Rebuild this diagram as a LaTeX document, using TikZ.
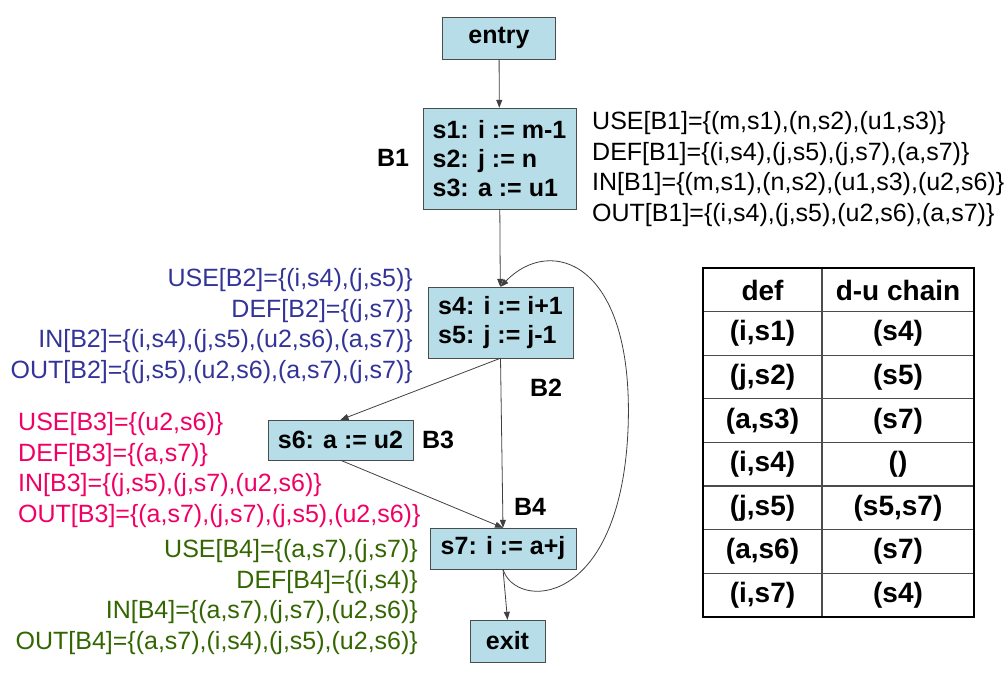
\documentclass[tikz,border=0pt]{standalone}
\usepackage{fontspec}
\setmainfont{Liberation Sans}
\usetikzlibrary{arrows.meta}

\definecolor{boxfill}{RGB}{183,222,232}
\definecolor{bluetext}{RGB}{51,51,153}
\definecolor{redtext}{RGB}{240,0,100}
\definecolor{greentext}{RGB}{51,102,0}

\begin{document}
\begin{tikzpicture}[x=1pt, y=-1pt,
    block/.style={draw=black!70, fill=boxfill, inner sep=0pt, align=left,
      font=\fontsize{25}{29}\selectfont\bfseries},
    lbl/.style={inner sep=0pt, font=\fontsize{25}{30}\selectfont\bfseries},
    info/.style={inner sep=0pt, font=\fontsize{25}{30.5}\selectfont},
    cell/.style={inner sep=0pt, font=\fontsize{28}{30}\selectfont\bfseries},
    flow/.style={draw=black!75, line width=0.8pt, -{Triangle[length=8pt,width=6pt]}}]
    \useasboundingbox (0,0) rectangle (1006,685);

    % Basic blocks
    \node[block, minimum width=113, minimum height=42] (entry) at (499,38) {entry};
    \node[block, minimum width=153, minimum height=101] (B1) at (499.5,158.5) {s1: i := m-1\\s2: j := n\\s3: a := u1};
    \node[block, minimum width=145, minimum height=71] (B2) at (500.5,322.5) {s4: i := i+1\\s5: j := j-1};
    \node[block, minimum width=145, minimum height=40] (B3) at (340.5,440) {s6: a := u2};
    \node[block, minimum width=146, minimum height=41] (B4) at (503,548.5) {s7: i := a+j};
    \node[block, minimum width=75, minimum height=42] (exit) at (507.5,641) {exit};

    % Block names
    \node[lbl] (nameB1) at (393,158) {B1};
    \node[lbl] (nameB2) at (546,388) {B2};
    \node[lbl] (nameB3) at (438,440) {B3};
    \node[lbl] (nameB4) at (530,507) {B4};

    % Flow edges
    \draw[flow] (entry) -- (B1);
    \draw[flow] (B1) -- (B2);
    \draw[flow] (B2.south) -- (B3.north);
    \draw[flow] (B2.south) -- (B4.north);
    \draw[flow] (B3.south) -- (B4.north);
    \draw[flow] (B4.south) -- (exit.north);
    \draw[flow] (B4.south) .. controls (515,610) and (620,610) .. (628,430)
        .. controls (635,260) and (550,235) .. (B2.north);

    % USE / DEF / IN / OUT sets
    \node[info, align=left, anchor=west] (setsB1) at (592,169)
        {USE[B1]=\{(m,s1),(n,s2),(u1,s3)\}\\DEF[B1]=\{(i,s4),(j,s5),(j,s7),(a,s7)\}\\IN[B1]=\{(m,s1),(n,s2),(u1,s3),(u2,s6)\}\\OUT[B1]=\{(i,s4),(j,s5),(u2,s6),(a,s7)\}};
    \node[info, align=right, anchor=east, text=bluetext] (setsB2) at (413,326)
        {USE[B2]=\{(i,s4),(j,s5)\}\\DEF[B2]=\{(j,s7)\}\\IN[B2]=\{(i,s4),(j,s5),(u2,s6),(a,s7)\}\\OUT[B2]=\{(j,s5),(u2,s6),(a,s7),(j,s7)\}};
    \node[info, align=left, anchor=west, text=redtext] (setsB3) at (18,470)
        {USE[B3]=\{(u2,s6)\}\\DEF[B3]=\{(a,s7)\}\\IN[B3]=\{(j,s5),(j,s7),(u2,s6)\}\\OUT[B3]=\{(a,s7),(j,s7),(j,s5),(u2,s6)\}};
    \node[info, align=right, anchor=east, text=greentext] (setsB4) at (418,597)
        {USE[B4]=\{(a,s7),(j,s7)\}\\DEF[B4]=\{(i,s4)\}\\IN[B4]=\{(a,s7),(j,s7),(u2,s6)\}\\OUT[B4]=\{(a,s7),(i,s4),(j,s5),(u2,s6)\}};

    % d-u chain table
    \foreach \i in {1,...,7}
        \draw[black!70, line width=1.2pt] (703,{268+43.6*\i}) -- (974,{268+43.6*\i});
    \draw[black!70, line width=1.2pt] (822,268) -- (822,617);
    \draw[line width=2.5pt] (703,268) rectangle (974,617);
    \node[cell] (hdef) at (762.5,290) {def};
    \node[cell] (hchain) at (898,290) {d-u chain};
    \foreach \d/\c [count=\i] in {{(i,s1)}/{(s4)}, {(j,s2)}/{(s5)}, {(a,s3)}/{(s7)},
            {(i,s4)}/{()}, {(j,s5)}/{(s5,s7)}, {(a,s6)}/{(s7)}, {(i,s7)}/{(s4)}}{
        \pgfmathsetmacro{\rowy}{290+43.6*\i}
        \node[cell] (def\i) at (762.5,\rowy) {\d};
        \node[cell] (chain\i) at (898,\rowy) {\c};
    }
\end{tikzpicture}
\end{document}
